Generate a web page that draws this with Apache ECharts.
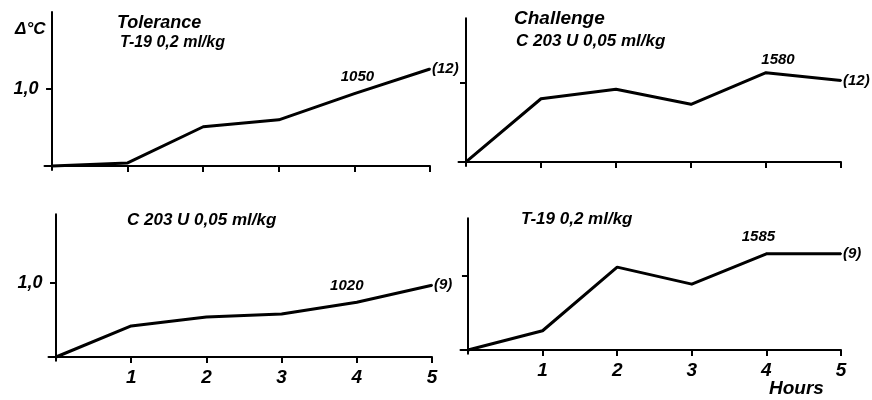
<!DOCTYPE html>
<html><head><meta charset="utf-8">
<script src="https://cdn.jsdelivr.net/npm/echarts@6/dist/echarts.min.js"></script>
<style>html,body{margin:0;padding:0;background:#fff}#c{width:872px;height:400px}</style>
</head><body><div id="c"></div>
<script>
const hours = [0, 1, 2, 3, 4, 5];
const xTickValues = [1, 2, 3, 4, 5];
const yTickValues = [1.0];
const yTickLabel = '1,0';
const panelTitles = ['Tolerance', 'Challenge', '', ''];
const panelDoses = ['T-19 0,2 ml/kg', 'C 203 U 0,05 ml/kg', 'C 203 U 0,05 ml/kg', 'T-19 0,2 ml/kg'];
const tolT19  = [0, 0.04, 0.51, 0.60, 0.94, 1.26];
const chalC203 = [0, 0.80, 0.92, 0.73, 1.13, 1.03];
const tolC203 = [0, 0.42, 0.54, 0.58, 0.74, 0.97];
const chalT19 = [0, 0.26, 1.12, 0.89, 1.30, 1.30];
const peakLabels = ['1050', '1580', '1020', '1585'];
const nLabels = ['(12)', '(12)', '(9)', '(9)'];
const seriesData = [tolT19, chalC203, tolC203, chalT19];

const FONT = 'Liberation Sans';
const peakOffsets = [[3, 0], [12, 4], [-10, 0], [-8, 0]];
const grids = [
  {left: 44.5, top: 12, width: 385.5, height: 157.9, ymax: 2.0, showY: true, showX: false},
  {left: 458.5, top: 18.2, width: 382.5, height: 147.7, ymax: 1.82, showY: false, showX: false},
  {left: 48.5, top: 214.2, width: 383.5, height: 146.5, ymax: 1.93, showY: true, showX: true},
  {left: 460.5, top: 218.3, width: 380.5, height: 135.4, ymax: 1.78, showY: false, showX: true}
];
const axisStyle = {lineStyle: {color: '#000', width: 2}};
const option = {
  animation: false,
  backgroundColor: '#fff',
  grid: grids.map(g => ({left: g.left, top: g.top, width: g.width, height: g.height})),
  xAxis: grids.map((g, i) => ({
    type: 'value', gridIndex: i, min: -0.1, max: 5,
    axisLine: Object.assign({onZero: true}, axisStyle),
    axisTick: {show: true, length: 6, customValues: xTickValues, lineStyle: {color: '#000', width: 2}},
    axisLabel: {show: g.showX, customValues: xTickValues, color: '#000', fontFamily: FONT,
      fontWeight: 'bold', fontStyle: 'italic', fontSize: 19, margin: 8},
    splitLine: {show: false}
  })),
  yAxis: grids.map((g, i) => ({
    type: 'value', gridIndex: i, min: -0.05, max: g.ymax,
    axisLine: Object.assign({show: true, onZero: true}, axisStyle),
    axisTick: {show: true, length: 6, customValues: yTickValues, lineStyle: {color: '#000', width: 2}},
    axisLabel: {show: g.showY, customValues: yTickValues, formatter: () => yTickLabel, color: '#000',
      fontFamily: FONT, fontWeight: 'bold', fontStyle: 'italic', fontSize: 18, margin: 6},
    splitLine: {show: false}
  })),
  series: seriesData.map((vals, i) => ({
    type: 'line', xAxisIndex: i, yAxisIndex: i,
    symbol: 'circle', symbolSize: 2,
    lineStyle: {color: '#000', width: 3},
    itemStyle: {color: '#000'},
    data: vals.map((v, k) => {
      const item = {value: [hours[k], v]};
      if (k === 4) item.label = {show: true, formatter: peakLabels[i], position: 'top', distance: 8,
        offset: peakOffsets[i],
        color: '#000', fontFamily: FONT, fontWeight: 'bold', fontStyle: 'italic', fontSize: 15};
      if (k === 5) item.label = {show: true, formatter: nLabels[i], position: 'right', distance: 1,
        color: '#000', fontFamily: FONT, fontWeight: 'bold', fontStyle: 'italic', fontSize: 15};
      return item;
    })
  })),
  graphic: [
    {type: 'text', left: 15, top: 21, style: {text: 'Δ°C', fill: '#000', font: 'italic bold 17px ' + FONT}},
    {type: 'text', left: 117, top: 14, style: {text: panelTitles[0], fill: '#000', font: 'italic bold 18px ' + FONT}},
    {type: 'text', left: 120, top: 35, style: {text: panelDoses[0], fill: '#000', font: 'italic bold 16px ' + FONT}},
    {type: 'text', left: 514, top: 9, style: {text: panelTitles[1], fill: '#000', font: 'italic bold 19px ' + FONT}},
    {type: 'text', left: 516, top: 33, style: {text: panelDoses[1], fill: '#000', font: 'italic bold 17px ' + FONT}},
    {type: 'text', left: 127, top: 212, style: {text: panelDoses[2], fill: '#000', font: 'italic bold 17px ' + FONT}},
    {type: 'text', left: 521, top: 211, style: {text: panelDoses[3], fill: '#000', font: 'italic bold 17px ' + FONT}},
    {type: 'text', left: 769, top: 379, style: {text: 'Hours', fill: '#000', font: 'italic bold 19px ' + FONT}}
  ]
};
const chart = echarts.init(document.getElementById('c'), null, {renderer: 'canvas'});
chart.setOption(option);
</script></body></html>
